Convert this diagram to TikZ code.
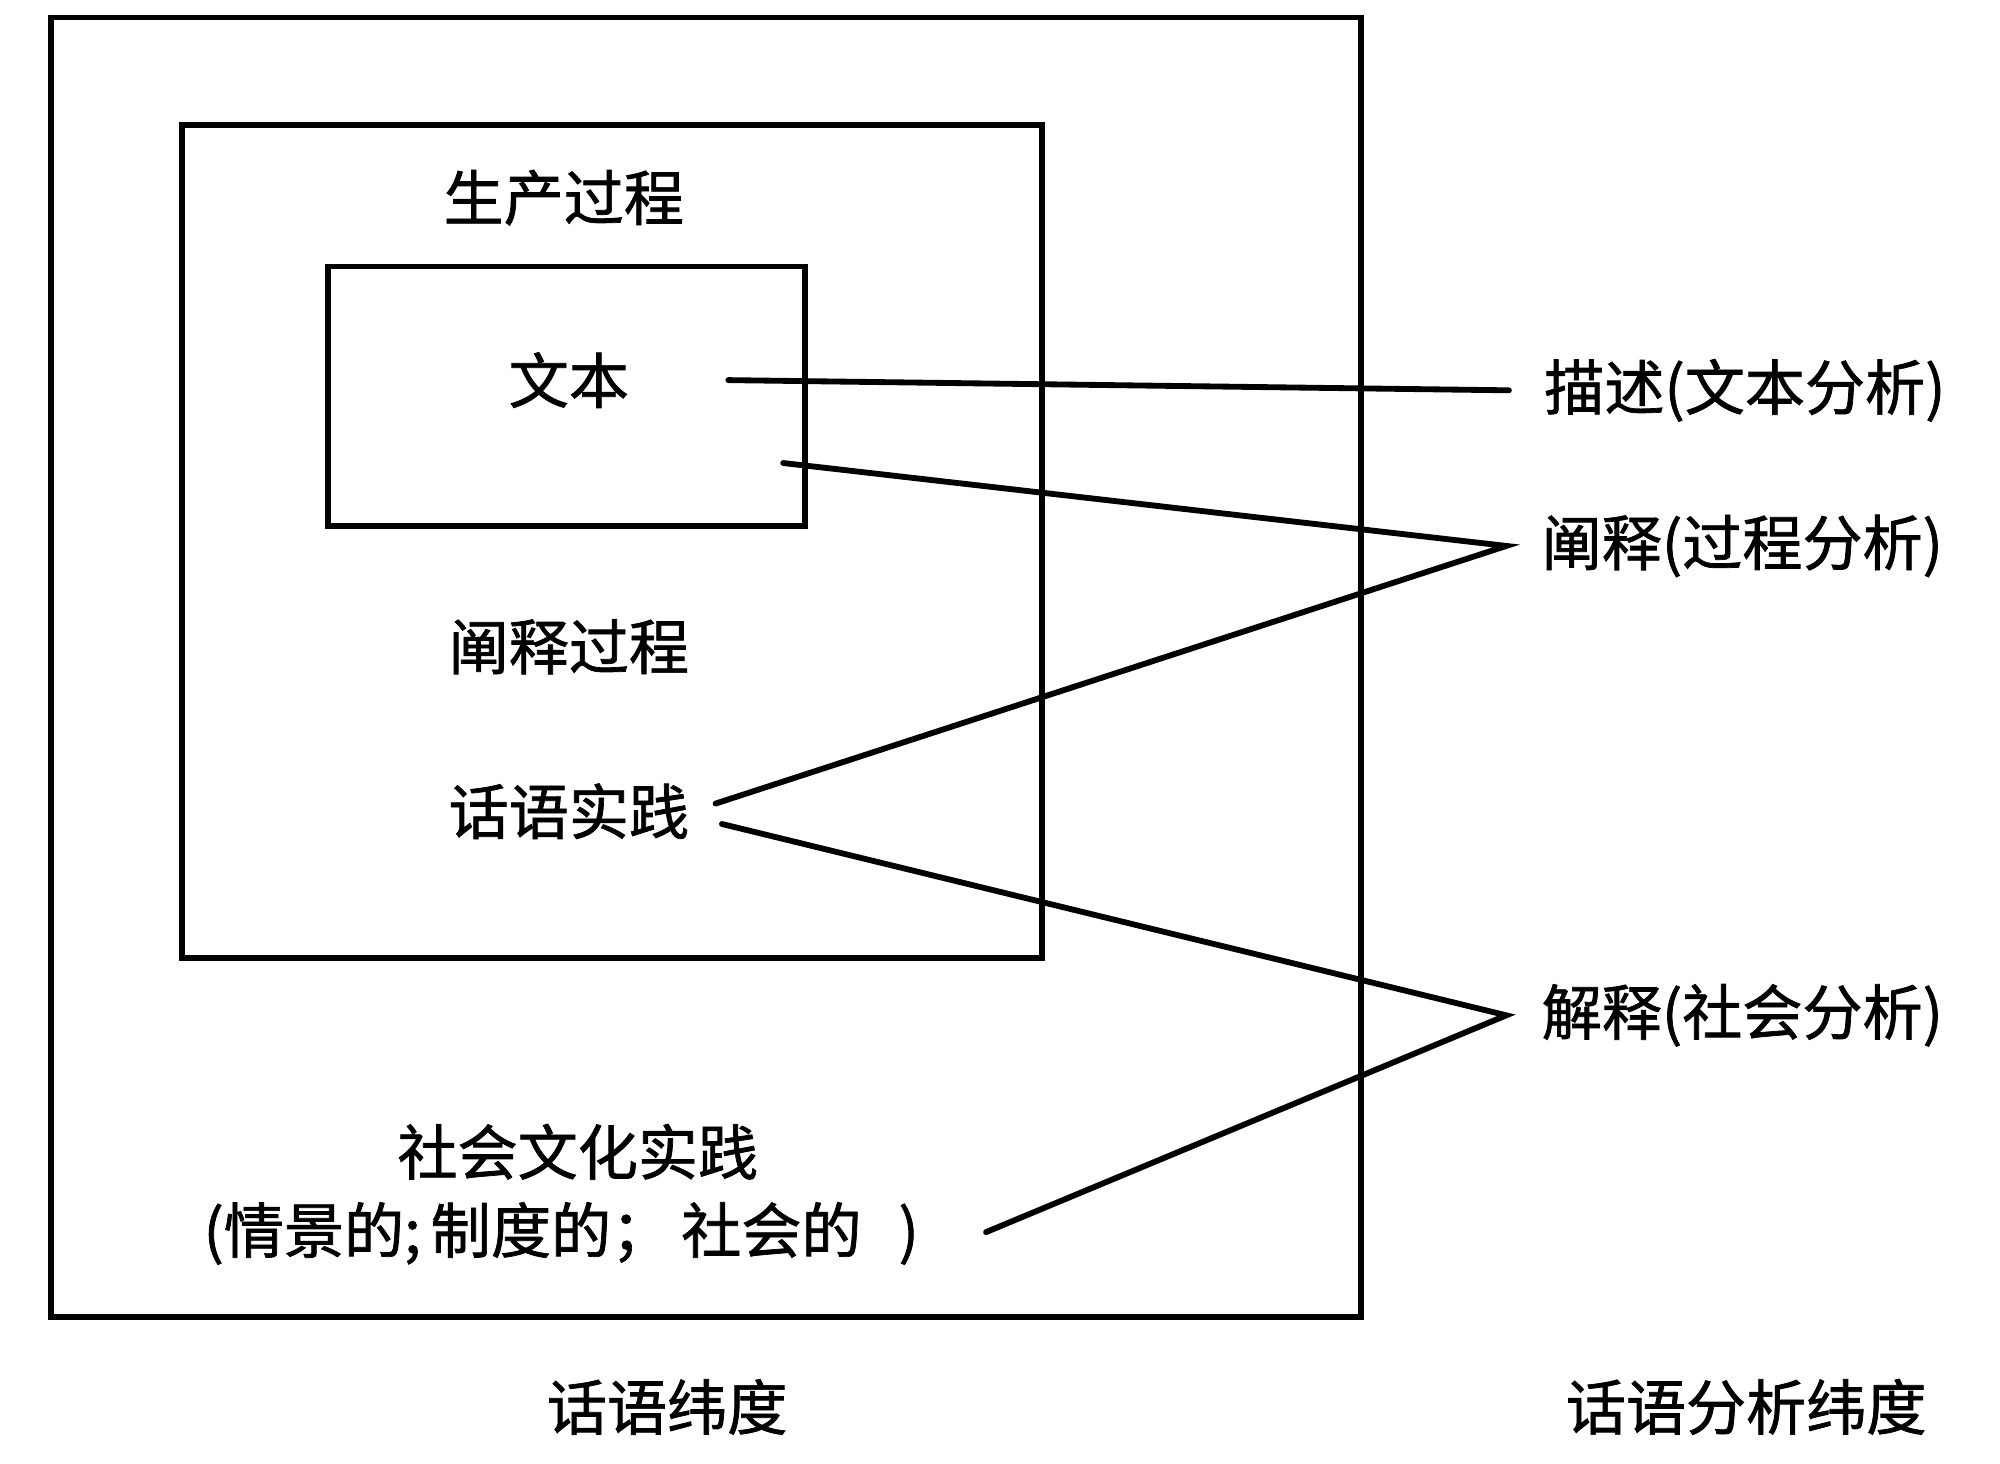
\documentclass[tikz,border=0pt]{standalone}
\usepackage{fontspec}
\setmainfont{Noto Sans CJK SC}[FakeBold=1.2]
\begin{document}
\begin{tikzpicture}[x=0.01cm,y=-0.01cm,
  box/.style={draw, line width=1.3pt, rectangle, inner sep=0pt},
  lbl/.style={font=\fontsize{13.4}{16}\selectfont, inner sep=0pt},
  side/.style={lbl, anchor=west, inner xsep=0.27cm},
  conn/.style={line width=1.3pt, line cap=round, line join=miter}]
\useasboundingbox[fill=white] (0,0) rectangle (1568,1147);

% boxes
\node[box, minimum width=10.27cm, minimum height=10.18cm] (outer) at (553.5,523) {};
\node[box, minimum width=6.74cm, minimum height=6.53cm] (middle) at (480,424.5) {};
\node[box, minimum width=3.74cm, minimum height=2.03cm] (inner) at (444,310.5) {};

% texts inside
\node[lbl] (prod) at (442,155) {生产过程};
\node[lbl] (wenben) at (446,298) {文本};
\node[lbl] (interp) at (446,507) {阐释过程};
\node[lbl] (huayu) at (446,636) {话语实践};
\node[lbl] (shehui) at (453,903) {社会文化实践};
\node[lbl] (detail) at (440,967) {(情景的;\,制度的；\,社会的\ \ \,)};

% bottom captions
\node[lbl] (dimA) at (523,1103) {话语纬度};
\node[lbl] (dimB) at (1369,1103) {话语分析纬度};

% right labels
\node[side] (miaoshu) at (1183,306) {描述(文本分析)};
\node[side] (chanshi) at (1181,428) {阐释(过程分析)};
\node[side] (jieshi) at (1181,796) {解释(社会分析)};

% free ends
\coordinate (a1) at (571,298);
\coordinate (a2) at (614,363);
\coordinate (a3) at (561,630);
\coordinate (a4) at (566,646);
\coordinate (a5) at (773,966);

% connectors
\draw[conn] (a1) -- (miaoshu.west);
\draw[conn] (a2) -- (chanshi.west) -- (a3);
\draw[conn] (a4) -- (jieshi.west) -- (a5);
\end{tikzpicture}
\end{document}
